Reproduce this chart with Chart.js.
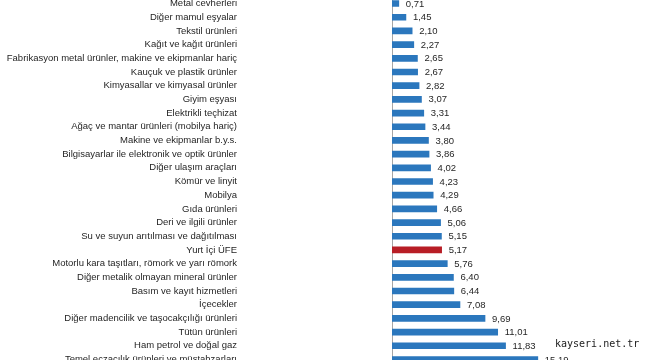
<!DOCTYPE html>
<html>
<head>
<meta charset="utf-8">
<script src="https://cdn.jsdelivr.net/npm/chart.js@4.4.1/dist/chart.umd.min.js"></script>
<style>
  html, body { margin: 0; padding: 0; background: #fff; }
  body { width: 650px; height: 360px; overflow: hidden; position: relative; }
  #chart { position: absolute; left: 0; top: -12px; }
  #mark { position: absolute; left: 555px; top: 338px; font: 10px "DejaVu Sans Mono", monospace; color: #1a1a1a; }
</style>
</head>
<body>
<canvas id="chart" width="650" height="387"></canvas>
<div id="mark">kayseri.net.tr</div>
<script>
// ===================================
// Veriler (yıllık değişim, %)
// ===================================
const categories = [
  'Metal cevherleri',
  'Diğer mamul eşyalar',
  'Tekstil ürünleri',
  'Kağıt ve kağıt ürünleri',
  'Fabrikasyon metal ürünler, makine ve ekipmanlar hariç',
  'Kauçuk ve plastik ürünler',
  'Kimyasallar ve kimyasal ürünler',
  'Giyim eşyası',
  'Elektrikli teçhizat',
  'Ağaç ve mantar ürünleri (mobilya hariç)',
  'Makine ve ekipmanlar b.y.s.',
  'Bilgisayarlar ile elektronik ve optik ürünler',
  'Diğer ulaşım araçları',
  'Kömür ve linyit',
  'Mobilya',
  'Gıda ürünleri',
  'Deri ve ilgili ürünler',
  'Su ve suyun arıtılması ve dağıtılması',
  'Yurt İçi ÜFE',
  'Motorlu kara taşıtları, römork ve yarı römork',
  'Diğer metalik olmayan mineral ürünler',
  'Basım ve kayıt hizmetleri',
  'İçecekler',
  'Diğer madencilik ve taşocakçılığı ürünleri',
  'Tütün ürünleri',
  'Ham petrol ve doğal gaz',
  'Temel eczacılık ürünleri ve müstahzarları'
];
const values = [0.71, 1.45, 2.10, 2.27, 2.65, 2.67, 2.82, 3.07, 3.31, 3.44, 3.80, 3.86, 4.02, 4.23,
  4.29, 4.66, 5.06, 5.15, 5.17, 5.76, 6.40, 6.44, 7.08, 9.69, 11.01, 11.83, 15.19];
const highlight = 'Yurt İçi ÜFE';

const BLUE = '#2b77bd';
const RED = '#b81d25';

// bar sonuna değer etiketi
const valueLabels = {
  id: 'valueLabels',
  afterDatasetsDraw(chart) {
    const ctx = chart.ctx;
    const meta = chart.getDatasetMeta(0);
    ctx.save();
    ctx.font = '9.5px "Liberation Sans", Arial, sans-serif';
    ctx.fillStyle = '#262626';
    ctx.textAlign = 'left';
    ctx.textBaseline = 'middle';
    meta.data.forEach((bar, i) => {
      ctx.fillText(values[i].toFixed(2).replace('.', ','), bar.x + 7, bar.y + 0.5);
    });
    ctx.restore();
  }
};

new Chart(document.getElementById('chart'), {
  type: 'bar',
  data: {
    labels: categories,
    datasets: [{
      data: values,
      xAxisID: 'x',
      yAxisID: 'y',
      backgroundColor: categories.map(c => c === highlight ? RED : BLUE),
      barThickness: 6
    }]
  },
  plugins: [valueLabels],
  options: {
    indexAxis: 'y',
    responsive: false,
    animation: false,
    layout: { autoPadding: false, padding: { top: 0, bottom: 0, left: 0, right: 66 } },
    plugins: {
      legend: { display: false },
      tooltip: { enabled: false }
    },
    scales: {
      x: { display: false, min: 0, max: 20 },
      // kategori etiketleri
      y: {
        position: 'left',
        weight: 1,
        afterFit: scale => { scale.width = 240; },
        grid: { display: false, drawTicks: false },
        border: { display: false },
        ticks: {
          padding: 3,
          color: '#1f1f1f',
          autoSkip: false,
          font: { family: '"Liberation Sans", Arial, sans-serif', size: 9.5 }
        }
      },
      // etiketler ile eksen çizgisi arasındaki boşluk
      gap: {
        type: 'linear',
        position: 'left',
        weight: 0,
        afterFit: scale => { scale.width = 152; },
        grid: { display: false, drawTicks: false },
        border: { display: true, color: '#a6a6a6', width: 1 },
        ticks: { display: false }
      }
    }
  }
});
</script>
</body>
</html>
